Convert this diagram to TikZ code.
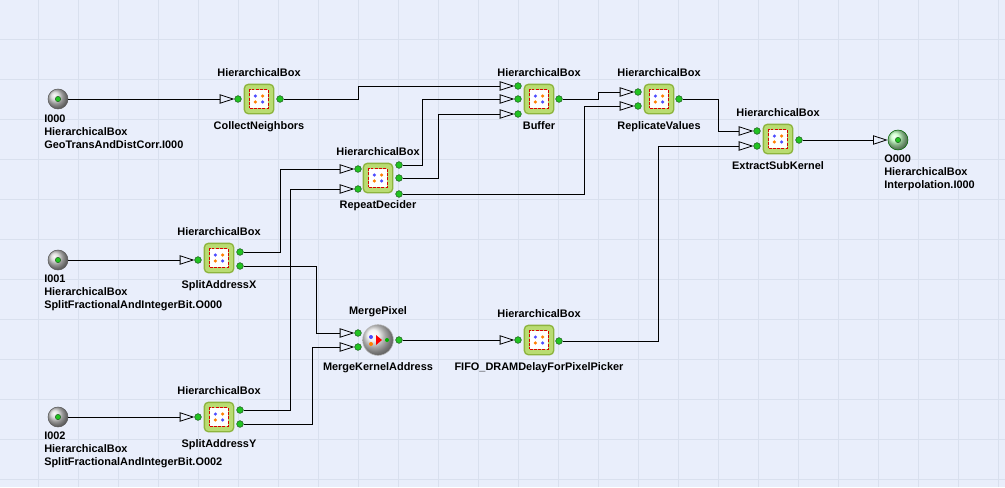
\documentclass[tikz,border=0pt]{standalone}
\usepackage{fontspec}
\setmainfont{Liberation Sans}
\usetikzlibrary{positioning,arrows.meta,shapes.geometric}
\definecolor{bgblue}{HTML}{E9EEFB}
\definecolor{gridline}{HTML}{D9E0EE}
\definecolor{boxgreen}{HTML}{B9DC72}
\definecolor{boxedge}{HTML}{8DB43E}
\definecolor{portgreen}{HTML}{22C322}
\definecolor{portedge}{HTML}{1F5F1F}
\tikzset{
  every node/.style={font=\bfseries\fontsize{8.2pt}{9.7pt}\selectfont},
  hb/.style={rounded corners=3pt, draw=boxedge, line width=1pt, fill=boxgreen,
    minimum size=22pt, inner sep=0pt, label={[yshift=2pt]above:HierarchicalBox}},
  icon/.style={draw=red!85!black, dashed, dash pattern=on 2.2pt off 1pt, line width=0.8pt, fill=white,
    minimum size=14pt, inner sep=0pt,
    path picture={
      \fill[blue!70] ([shift={(-2.7pt,2.2pt)}]path picture bounding box.center) circle (1.3pt);
      \fill[orange] ([shift={(2.7pt,2.2pt)}]path picture bounding box.center) circle (1.3pt);
      \fill[orange] ([shift={(-2.7pt,-2.2pt)}]path picture bounding box.center) circle (1.3pt);
      \fill[blue!70] ([shift={(2.7pt,-2.2pt)}]path picture bounding box.center) circle (1.3pt);}},
  port/.style={circle, draw=portedge, fill=portgreen, minimum size=5pt, inner sep=0pt},
  term/.style={circle, draw=gray!70!black, ball color=gray!35, minimum size=15pt, inner sep=0pt},
  termtext/.style={anchor=north west, align=left, inner sep=0pt},
  wire/.style={line width=0.6pt},
  link/.style={wire, -{Triangle[open,length=11pt,width=7pt]}}
}
\begin{document}
\begin{tikzpicture}[x=0.75pt, y=-0.75pt]
  \useasboundingbox (0,0) rectangle (1005,487);
  \fill[bgblue] (0,0) rectangle (1005,487);
  \foreach \gx in {38,78,...,1000} \draw[gridline, line width=0.5pt] (\gx,0) -- (\gx,487);
  \foreach \gy in {39,79,...,487} \draw[gridline, line width=0.5pt] (0,\gy) -- (1005,\gy);

  % terminals
  \node[term] (i0) at (58,99) {}; \node[port, minimum size=4pt] at (i0) {};
  \node[termtext] (i0t) at (44,115) {I000\\HierarchicalBox\\GeoTransAndDistCorr.I000};
  \node[term] (i1) at (58,260) {}; \node[port, minimum size=4pt] at (i1) {};
  \node[termtext] (i1t) at (44,275) {I001\\HierarchicalBox\\SplitFractionalAndIntegerBit.O000};
  \node[term] (i2) at (58,417) {}; \node[port, minimum size=4pt] at (i2) {};
  \node[termtext] (i2t) at (44,432) {I002\\HierarchicalBox\\SplitFractionalAndIntegerBit.O002};
  \node[term, ball color=green!25, draw=green!40!black] (o0) at (898,140) {};
  \node[port, minimum size=4pt] at (o0) {};
  \node[termtext] (o0t) at (884,155) {O000\\HierarchicalBox\\Interpolation.I000};

  % boxes
  \node[hb, label={[yshift=-2pt]below:CollectNeighbors}] (cn) at (259,99) {};
  \node[hb, label={[yshift=-2pt]below:Buffer}] (buf) at (539,99) {};
  \node[hb, label={[yshift=-2pt]below:ReplicateValues}] (rv) at (659,99) {};
  \node[hb, label={[yshift=-2pt]below:RepeatDecider}] (rd) at (378,178) {};
  \node[hb, label={[yshift=-2pt]below:ExtractSubKernel}] (esk) at (778,139) {};
  \node[hb, label={[yshift=-2pt]below:SplitAddressX}] (sx) at (219,258) {};
  \node[hb, label={[yshift=-2pt]below:SplitAddressY}] (sy) at (219,417) {};
  \node[hb, label={[yshift=-2pt]below:FIFO\_DRAMDelayForPixelPicker}] (fifo) at (539,340) {};
  \foreach \b in {cn,buf,rv,rd,esk,sx,sy,fifo} \node[icon] at (\b) {};
  \node[circle, draw=gray!60, ball color=gray!15, minimum size=23pt, inner sep=0pt,
    label={[yshift=2pt]above:MergePixel}, label={[yshift=-2pt]below:MergeKernelAddress}] (mp) at (378,340) {};
  \fill[red] (376,335) -- (382,340) -- (376,345) -- cycle;
  \fill[blue!70] (371,337) circle (1.5pt);
  \fill[orange] (371,344) circle (1.5pt);
  \fill[green!70!black] (387,340) circle (1.5pt);

  % ports
  \node[port] (cnA) at (238,99) {};  \node[port] (cnO) at (280,99) {};
  \node[port] (bufA) at (518,86) {}; \node[port] (bufB) at (518,99) {};
  \node[port] (bufC) at (518,114) {}; \node[port] (bufO) at (559,99) {};
  \node[port] (rvA) at (638,92) {};  \node[port] (rvB) at (638,106) {};
  \node[port] (rvO) at (679,99) {};
  \node[port] (rdA) at (358,169) {}; \node[port] (rdB) at (358,189) {};
  \node[port] (rdO) at (399,165) {}; \node[port] (rdP) at (399,178) {};
  \node[port] (rdQ) at (399,194) {};
  \node[port] (eskA) at (757,131) {}; \node[port] (eskB) at (757,146) {};
  \node[port] (eskO) at (799,140) {};
  \node[port] (sxA) at (198,260) {}; \node[port] (sxO) at (240,252) {};
  \node[port] (sxP) at (240,266) {};
  \node[port] (syA) at (198,417) {}; \node[port] (syO) at (240,410) {};
  \node[port] (syP) at (240,424) {};
  \node[port] (mpA) at (358,333) {}; \node[port] (mpB) at (358,347) {};
  \node[port] (mpO) at (399,340) {};
  \node[port] (fifoA) at (518,340) {}; \node[port] (fifoO) at (559,341) {};

  % wires
  \draw[link] (i0) -- (cnA);
  \draw[link] (i1) -- (sxA);
  \draw[link] (i2) -- (syA);
  \draw[link] (cnO) -| (358,86) -- (bufA);
  \draw[link] (rdO) -| (422,99) -- (bufB);
  \draw[link] (rdP) -| (438,114) -- (bufC);
  \draw[link] (rdQ) -| (584,106) -- (rvB);
  \draw[link] (bufO) -| (598,92) -- (rvA);
  \draw[link] (rvO) -| (718,131) -- (eskA);
  \draw[link] (fifoO) -| (658,146) -- (eskB);
  \draw[link] (eskO) -- (o0);
  \draw[link] (sxO) -| (280,169) -- (rdA);
  \draw[link] (syO) -| (290,189) -- (rdB);
  \draw[link] (sxP) -| (316,333) -- (mpA);
  \draw[link] (syP) -| (312,347) -- (mpB);
  \draw[link] (mpO) -- (fifoA);
\end{tikzpicture}
\end{document}
